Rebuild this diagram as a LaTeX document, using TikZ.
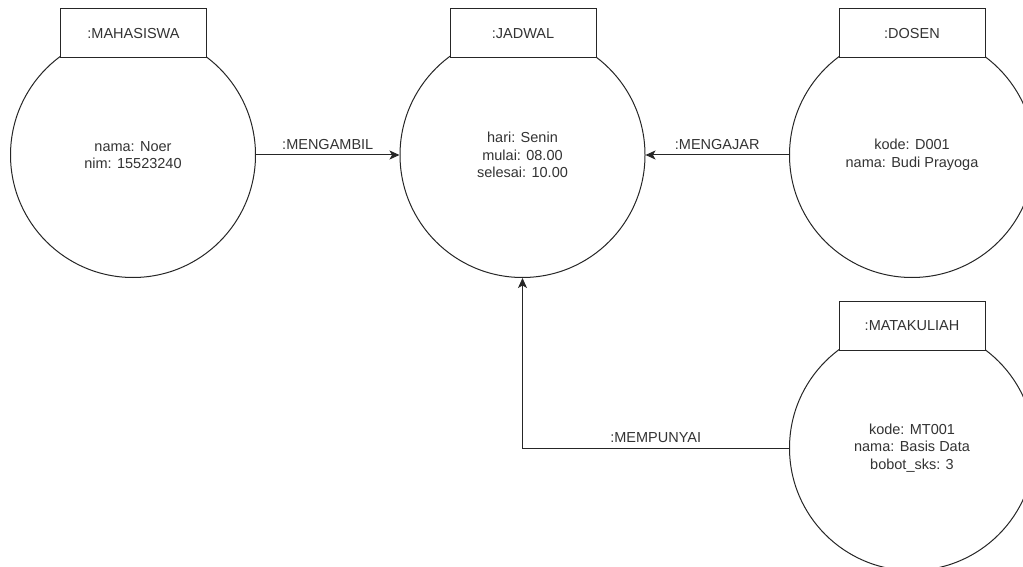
\documentclass[tikz,border=0pt]{standalone}
\usepackage{fontspec}
\setmainfont{Liberation Sans}
\usetikzlibrary{arrows.meta}
\begin{document}
\begin{tikzpicture}[x=1pt,y=-1pt,
  txt/.style={font=\fontsize{14.5}{17.5}\selectfont,text=black!80},
  obj/.style={circle,draw=black!85,fill=white,line width=1pt,minimum size=245pt,
    inner sep=0pt,align=center,txt},
  hdr/.style={rectangle,draw=black!85,fill=white,line width=1pt,minimum width=146pt,
    minimum height=49pt,inner sep=0pt,txt},
  link/.style={draw=black!85,line width=1pt,-{Stealth[length=10pt,width=9pt,inset=2.5pt]}},
  lbl/.style={txt,inner sep=2pt}]
\useasboundingbox (0,0) rectangle (1023,567);
\clip (0,0) rectangle (1023,567);

% object circles
\node[obj] (mhs) at (133,155) {nama: Noer\\nim: 15523240};
\node[obj] (jdw) at (522.5,155) {hari: Senin\\mulai: 08.00\\selesai: 10.00};
\node[obj] (dsn) at (912,155) {kode: D001\\nama: Budi Prayoga};
\node[obj] (mk)  at (912,448) {kode: MT001\\nama: Basis Data\\bobot\_sks: 3};

% object name boxes
\node[hdr] (mhsh) at (133.5,33.5) {:MAHASISWA};
\node[hdr] (jdwh) at (523,33.5) {:JADWAL};
\node[hdr] (dsnh) at (912,33.5) {:DOSEN};
\node[hdr] (mkh)  at (912,326) {:MATAKULIAH};

% links
\draw[link] (mhs.east) -- node[lbl,above=3pt] {:MENGAMBIL} (jdw.west);
\draw[link] (dsn.west) -- node[lbl,above=3pt] {:MENGAJAR} (jdw.east);
\draw[link] (mk.west) -| node[lbl,pos=0.25,above=3pt] {:MEMPUNYAI} (jdw.south);
\end{tikzpicture}
\end{document}
